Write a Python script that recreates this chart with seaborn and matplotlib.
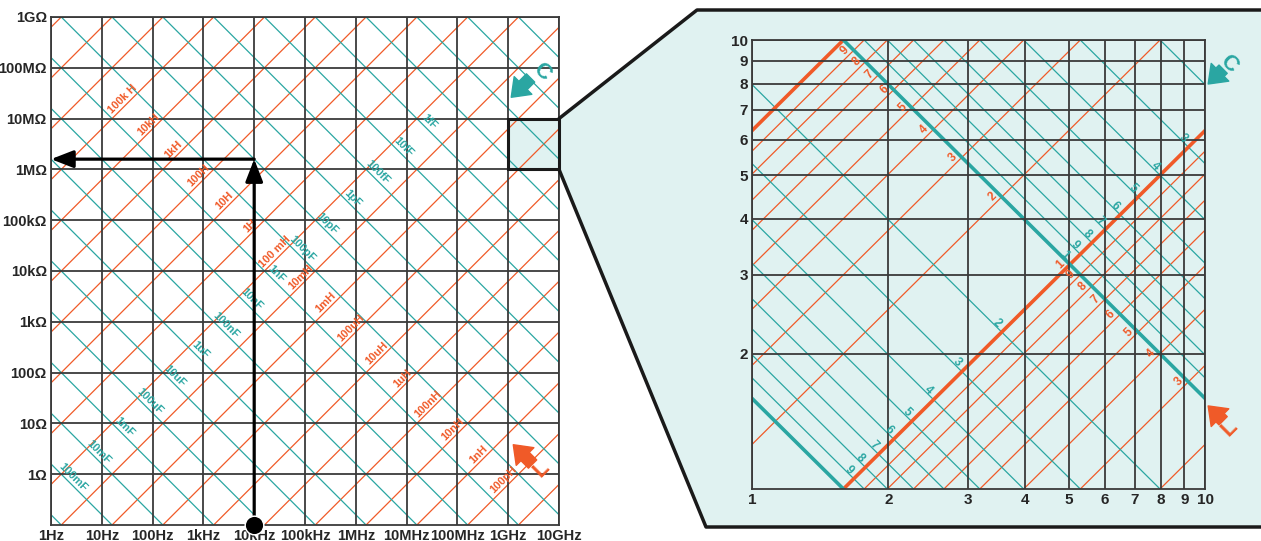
import numpy as np
import pandas as pd
import matplotlib
matplotlib.use("Agg")
import matplotlib.pyplot as plt
import seaborn as sns
from matplotlib.patches import Polygon, Rectangle
from matplotlib.lines import Line2D
from matplotlib.ticker import NullLocator

# Datos del grafico principal (abaco de reactancia)
freq_ticks = [1, 1e1, 1e2, 1e3, 1e4, 1e5, 1e6, 1e7, 1e8, 1e9, 1e10]
freq_labels = ['1Hz', '10Hz', '100Hz', '1kHz', '10kHz', '100kHz', '1MHz',
               '10MHz', '100MHz', '1GHz', '10GHz']
imp_ticks = [1, 1e1, 1e2, 1e3, 1e4, 1e5, 1e6, 1e7, 1e8, 1e9]
imp_labels = ['1Ω', '10Ω', '100Ω', '1kΩ', '10kΩ', '100kΩ', '1MΩ', '10MΩ',
              '100MΩ', '1GΩ']

ind_lines = [1e-12, 1e-11, 1e-10, 1e-9, 1e-8, 1e-7, 1e-6, 1e-5, 1e-4, 1e-3,
             1e-2, 1e-1, 1, 1e1, 1e2, 1e3, 1e4, 1e5, 1e6, 1e7, 1e8]
cap_lines = [1e-20, 1e-19, 1e-18, 1e-17, 1e-16, 1e-15, 1e-14, 1e-13, 1e-12,
             1e-11, 1e-10, 1e-9, 1e-8, 1e-7, 1e-6, 1e-5, 1e-4, 1e-3, 1e-2,
             1e-1, 1]

ind_label_vals = [1e5, 1e4, 1e3, 1e2, 1e1, 1, 1e-1, 1e-2, 1e-3, 1e-4, 1e-5,
                  1e-6, 1e-7, 1e-8, 1e-9, 1e-10]
ind_label_text = ['100k H', '10kH', '1kH', '100H', '10H', '1H', '100 mH',
                  '10mH', '1mH', '100uH', '10uH', '1uH', '100nH', '10nH',
                  '1nH', '100pH']
cap_label_vals = [1e-15, 1e-14, 1e-13, 1e-12, 1e-11, 1e-10, 1e-9, 1e-8,
                  1e-7, 1e-6, 1e-5, 1e-4, 1e-3, 1e-2, 1e-1]
cap_label_text = ['1fF', '10fF', '100fF', '1pF', '10pF', '100pF', '1nF',
                  '10nF', '100nF', '1uF', '10uF', '100uF', '1mF', '10mF',
                  '100mF']

# Ejemplo de lectura: 10 pF a 10 kHz
arrow_freq = 1e4
arrow_cap = 10e-12

# Zona ampliada
zoom_freq = [1e9, 1e10]
zoom_imp = [1e6, 1e7]

# Datos del panel ampliado
panel_x_ticks = [1, 2, 3, 4, 5, 6, 7, 8, 9, 10]
panel_y_ticks = [2, 3, 4, 5, 6, 7, 8, 9, 10]
panel_ind_thick = [1e-4, 1e-3]
panel_ind_thin = [2e-5, 3e-5, 4e-5, 5e-5, 6e-5, 7e-5, 8e-5, 9e-5,
                  2e-4, 3e-4, 4e-4, 5e-4, 6e-4, 7e-4, 8e-4, 9e-4]
panel_cap_thick = [1e-17, 1e-16]
panel_cap_thin = [2e-18, 3e-18, 4e-18, 5e-18, 6e-18, 7e-18, 8e-18, 9e-18,
                  2e-17, 3e-17, 4e-17, 5e-17, 6e-17, 7e-17, 8e-17, 9e-17]
panel_ind_marks = [9e-4, 8e-4, 7e-4, 6e-4, 5e-4, 4e-4, 3e-4, 2e-4, 1e-4,
                   9e-5, 8e-5, 7e-5, 6e-5, 5e-5, 4e-5, 3e-5]
panel_ind_digits = ['9', '8', '7', '6', '5', '4', '3', '2', '1',
                    '9', '8', '7', '6', '5', '4', '3']
panel_cap_marks = [9e-17, 8e-17, 7e-17, 6e-17, 5e-17, 4e-17, 3e-17, 2e-17,
                   1e-17, 9e-18, 8e-18, 7e-18, 6e-18, 5e-18, 4e-18, 3e-18]
panel_cap_digits = ['9', '8', '7', '6', '5', '4', '3', '2', '1',
                    '9', '8', '7', '6', '5', '4', '3']

NARANJA = '#f05a28'
VERDE = '#2aa6a2'
FONDO = '#e0f2f1'
REJILLA = '#3a3a3a'

sns.set_theme(style='white')
plt.rcParams['font.family'] = ['Liberation Sans', 'DejaVu Sans']


def rectas(valores, tipo, f_lo, f_hi):
    filas = []
    for i, v in enumerate(valores):
        for f in (f_lo, f_hi):
            z = 2 * np.pi * f * v if tipo == 'L' else 1 / (2 * np.pi * f * v)
            filas.append({'f': f, 'z': z, 'id': i})
    return pd.DataFrame(filas)


def dibujar_rectas(ax, valores, tipo, color, lw, f_lo, f_hi):
    df = rectas(valores, tipo, f_lo, f_hi)
    sns.lineplot(data=df, x='f', y='z', units='id', estimator=None, sort=False,
                 color=color, lw=lw, ax=ax, legend=False, zorder=2)


def icono(ax, cabeza, cola, pos_letra, letra, rot, color):
    ax.annotate('', xy=cabeza, xytext=cola, xycoords='axes fraction',
                textcoords='axes fraction', annotation_clip=False,
                arrowprops=dict(arrowstyle='simple,head_length=0.6,head_width=0.9,tail_width=0.42',
                                color=color, mutation_scale=20, shrinkA=0, shrinkB=0))
    ax.text(pos_letra[0], pos_letra[1], letra, transform=ax.transAxes,
            rotation=rot, color=color, fontsize=16, fontweight='bold',
            ha='center', va='center', clip_on=False)


fig = plt.figure(figsize=(12.61, 5.41), dpi=100)
ax = fig.add_axes([51 / 1261, 16 / 541, 508 / 1261, 508 / 541])
ax2 = fig.add_axes([752 / 1261, 52 / 541, 453 / 1261, 449 / 541])

# ---------------- Grafico principal ----------------
ax.set_xscale('log')
ax.set_yscale('log')
dibujar_rectas(ax, ind_lines, 'L', NARANJA, 0.9, 1e-2, 1e12)
dibujar_rectas(ax, cap_lines, 'C', VERDE, 0.9, 1e-2, 1e12)
ax.set_xlim(1, 1e10)
ax.set_ylim(0.1, 1e9)

ax.add_patch(Rectangle((zoom_freq[0], zoom_imp[0]), zoom_freq[1] - zoom_freq[0],
                       zoom_imp[1] - zoom_imp[0], facecolor=FONDO,
                       edgecolor='none', zorder=0.5))
ax.add_patch(Rectangle((zoom_freq[0], zoom_imp[0]), zoom_freq[1] - zoom_freq[0],
                       zoom_imp[1] - zoom_imp[0], facecolor='none',
                       edgecolor='#1a1a1a', lw=2.2, zorder=5, clip_on=False))

ax.set_xticks(freq_ticks, freq_labels)
ax.set_yticks(imp_ticks, imp_labels)
ax.xaxis.set_minor_locator(NullLocator())
ax.yaxis.set_minor_locator(NullLocator())
ax.tick_params(length=0, pad=3, labelsize=10.5)
for t in ax.get_xticklabels() + ax.get_yticklabels():
    t.set_fontweight('bold')
ax.grid(True, color=REJILLA, lw=1.3)
ax.set_axisbelow(False)
for s in ax.spines.values():
    s.set_color(REJILLA)
    s.set_linewidth(1.3)
ax.set_xlabel('')
ax.set_ylabel('')

# Etiquetas de las rectas (a lo largo de una diagonal)
d_L = 8.8
for v, txt in zip(ind_label_vals, ind_label_text):
    u = (d_L - np.log10(2 * np.pi * v)) / 2
    ax.annotate(txt, xy=(10 ** u, 10 ** (d_L - u)), xytext=(-3.2, 3.2),
                textcoords='offset points', rotation=45, rotation_mode='anchor',
                ha='center', va='center', color=NARANJA, fontsize=8,
                fontweight='bold', zorder=4)
e_C = -0.5
for v, txt in zip(cap_label_vals, cap_label_text):
    u = (-np.log10(2 * np.pi * v) - e_C) / 2
    ax.annotate(txt, xy=(10 ** u, 10 ** (u + e_C)), xytext=(3.2, 3.2),
                textcoords='offset points', rotation=-45, rotation_mode='anchor',
                ha='center', va='center', color=VERDE, fontsize=8,
                fontweight='bold', zorder=4)

# Flechas del ejemplo de lectura
z_arrow = 1 / (2 * np.pi * arrow_freq * arrow_cap)
flecha = dict(arrowstyle='-|>,head_length=0.9,head_width=0.35', color='black',
              lw=2.3, mutation_scale=15, shrinkA=0, shrinkB=0)
ax.annotate('', xy=(arrow_freq, z_arrow), xytext=(arrow_freq, 0.1),
            arrowprops=flecha, zorder=6)
ax.annotate('', xy=(1, z_arrow), xytext=(arrow_freq, z_arrow),
            arrowprops=flecha, zorder=6)
sns.scatterplot(x=[arrow_freq], y=[0.1], s=180, color='black', ax=ax,
                clip_on=False, zorder=7, legend=False)

icono(ax, (0.906, 0.842), (0.944, 0.880), (0.966, 0.893), 'C', -45, VERDE)
icono(ax, (0.910, 0.158), (0.948, 0.120), (0.966, 0.110), 'L', 45, NARANJA)

# ---------------- Conexion y fondo del panel ----------------
fig.canvas.draw()
a_fig = fig.transFigure.inverted()
esq_sup = a_fig.transform(ax.transData.transform((zoom_freq[1], zoom_imp[1])))
esq_inf = a_fig.transform(ax.transData.transform((zoom_freq[1], zoom_imp[0])))
p_sup_izq = (697 / 1261, 1 - 10 / 541)
p_inf_izq = (706 / 1261, 1 - 527 / 541)
fondo = Polygon([esq_sup, p_sup_izq, (1, p_sup_izq[1]), (1, p_inf_izq[1]),
                 p_inf_izq, esq_inf], closed=True, transform=fig.transFigure,
                facecolor=FONDO, edgecolor='none', zorder=-1)
fig.patches.append(fondo)
for pts in ([esq_sup, p_sup_izq, (1, p_sup_izq[1])],
            [esq_inf, p_inf_izq, (1, p_inf_izq[1])]):
    xs, ys = zip(*pts)
    fig.lines.append(Line2D(xs, ys, transform=fig.transFigure,
                            color='#1a1a1a', lw=2.5, zorder=3))

# ---------------- Panel ampliado ----------------
ax2.set_facecolor('none')
ax2.set_xscale('log')
ax2.set_yscale('log')
dibujar_rectas(ax2, panel_ind_thin, 'L', NARANJA, 0.9, 1e8, 1e11)
dibujar_rectas(ax2, panel_cap_thin, 'C', VERDE, 0.9, 1e8, 1e11)
dibujar_rectas(ax2, panel_ind_thick, 'L', NARANJA, 2.6, 1e8, 1e11)
dibujar_rectas(ax2, panel_cap_thick, 'C', VERDE, 2.6, 1e8, 1e11)
ax2.set_xlim(zoom_freq)
ax2.set_ylim(zoom_imp)

ax2.set_xticks([v * zoom_freq[0] for v in panel_x_ticks],
               [str(v) for v in panel_x_ticks])
ax2.set_yticks([v * zoom_imp[0] for v in panel_y_ticks],
               [str(v) for v in panel_y_ticks])
ax2.xaxis.set_minor_locator(NullLocator())
ax2.yaxis.set_minor_locator(NullLocator())
ax2.tick_params(length=0, pad=3, labelsize=11)
for t in ax2.get_xticklabels() + ax2.get_yticklabels():
    t.set_fontweight('bold')
ax2.grid(True, color=REJILLA, lw=1.3)
ax2.set_axisbelow(False)
for s in ax2.spines.values():
    s.set_color(REJILLA)
    s.set_linewidth(1.3)
ax2.set_xlabel('')
ax2.set_ylabel('')


def dentro(f, z):
    return zoom_freq[0] <= f <= zoom_freq[1] and zoom_imp[0] <= z <= zoom_imp[1]


# Digitos de las inductancias sobre la recta gruesa de capacidad
c_ref = panel_cap_thick[0]
for v, txt in zip(panel_ind_marks, panel_ind_digits):
    f = 1 / (2 * np.pi * np.sqrt(v * c_ref))
    z = 2 * np.pi * f * v
    if dentro(f, z):
        ax2.annotate(txt, xy=(f, z), xytext=(-6.5, 0), textcoords='offset points',
                     rotation=45, ha='center', va='center', color=NARANJA,
                     fontsize=8.5, fontweight='bold', zorder=4)

# Digitos de las capacidades sobre la recta gruesa de inductancia
l_ref = panel_ind_thick[0]
for v, txt in zip(panel_cap_marks, panel_cap_digits):
    f = 1 / (2 * np.pi * np.sqrt(l_ref * v))
    z = 2 * np.pi * f * l_ref
    if dentro(f, z):
        ax2.annotate(txt, xy=(f, z), xytext=(-3.5, 6.5), textcoords='offset points',
                     rotation=-45, ha='center', va='center', color=VERDE,
                     fontsize=8.5, fontweight='bold', zorder=4)

icono(ax2, (1.007, 0.902), (1.040, 0.935), (1.052, 0.947), 'C', -45, VERDE)
icono(ax2, (1.007, 0.185), (1.040, 0.152), (1.054, 0.136), 'L', 45, NARANJA)

fig.savefig('out.png', dpi=100)
